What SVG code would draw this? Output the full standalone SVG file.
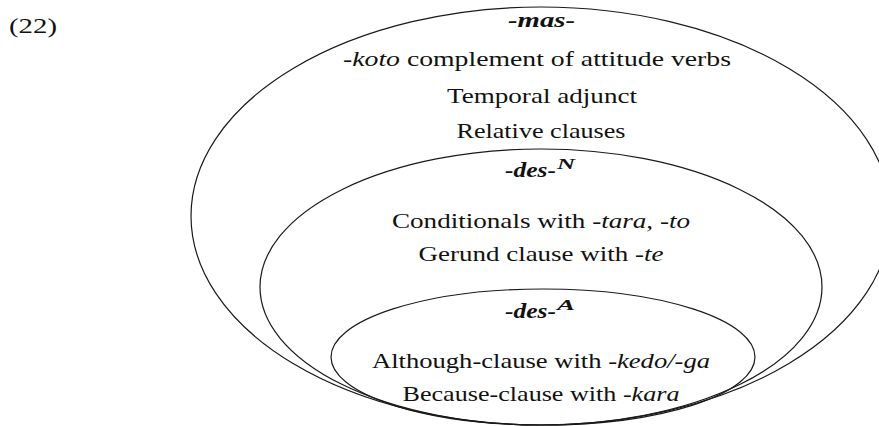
<svg xmlns="http://www.w3.org/2000/svg" width="879" height="426" viewBox="0 0 879 426">
<style>
  .ell { fill: none; stroke: #1a1a1a; stroke-width: 1.2; }
  .t { font-family: 'Liberation Serif', 'Times New Roman', serif; font-size: 22px; fill: #111; text-anchor: middle; }
  .h { font-family: 'Liberation Serif', 'Times New Roman', serif; font-size: 22px; fill: #111; font-weight: bold; font-style: italic; }
  .sup { font-family: 'Liberation Serif', 'Times New Roman', serif; font-size: 15px; fill: #111; font-weight: bold; font-style: italic; }
  .i { font-style: italic; }
</style>
<rect width="879" height="426" fill="#ffffff"/>
<text id="label" x="9" y="33" font-family="Liberation Serif, serif" font-size="21" fill="#111" textLength="48" lengthAdjust="spacingAndGlyphs">(22)</text>

<g id="mas">
  <ellipse class="ell" cx="541" cy="216" rx="350" ry="209"/>
  <text class="h" x="508" y="27" textLength="67" lengthAdjust="spacingAndGlyphs">-mas-</text>
  <text class="t" x="537" y="66" textLength="388" lengthAdjust="spacingAndGlyphs"><tspan class="i">-koto</tspan> complement of attitude verbs</text>
  <text class="t" x="542" y="103" textLength="190" lengthAdjust="spacingAndGlyphs">Temporal adjunct</text>
  <text class="t" x="541" y="138" textLength="169" lengthAdjust="spacingAndGlyphs">Relative clauses</text>
</g>

<g id="desN">
  <ellipse class="ell" cx="541" cy="287" rx="281" ry="138"/>
  <text class="h" x="505" y="177" textLength="51" lengthAdjust="spacingAndGlyphs">-des-</text>
  <text class="sup" x="557" y="169" textLength="18" lengthAdjust="spacingAndGlyphs">N</text>
  <text class="t" x="541" y="228" textLength="298" lengthAdjust="spacingAndGlyphs">Conditionals with <tspan class="i">-tara, -to</tspan></text>
  <text class="t" x="541" y="261" textLength="245" lengthAdjust="spacingAndGlyphs">Gerund clause with <tspan class="i">-te</tspan></text>
</g>

<g id="desA">
  <ellipse class="ell" cx="543" cy="357" rx="212" ry="68"/>
  <text class="h" x="505" y="318" textLength="51" lengthAdjust="spacingAndGlyphs">-des-</text>
  <text class="sup" x="557" y="310" textLength="18" lengthAdjust="spacingAndGlyphs">A</text>
  <text class="t" x="541" y="368" textLength="338" lengthAdjust="spacingAndGlyphs">Although-clause with <tspan class="i">-kedo/-ga</tspan></text>
  <text class="t" x="541" y="401" textLength="277" lengthAdjust="spacingAndGlyphs">Because-clause with <tspan class="i">-kara</tspan></text>
</g>
</svg>
